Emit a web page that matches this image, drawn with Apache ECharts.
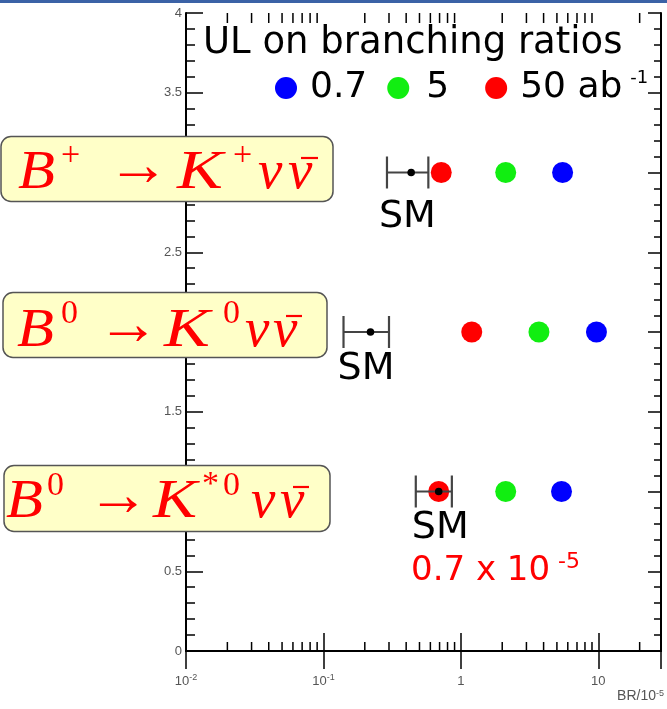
<!DOCTYPE html>
<html><head><meta charset="utf-8">
<script src="https://cdn.jsdelivr.net/npm/echarts@6/dist/echarts.min.js"></script>
<style>html,body{margin:0;padding:0;background:#fff}#c{width:667px;height:709px}</style>
</head><body><div id="c"></div>
<script>
// ---- data ----
const rowY = [3, 2, 1];
const smCentral = [0.435, 0.22, 0.69];
const smLow = [0.29, 0.14, 0.47];
const smHigh = [0.58, 0.30, 0.86];
const ul07 = [5.5, 9.7, 5.4];     // blue, 0.7 ab-1
const ul5 = [2.12, 3.7, 2.12];    // green, 5 ab-1
const ul50 = [0.72, 1.2, 0.69];   // red, 50 ab-1
const seriesNames = ['0.7', '5', '50 ab⁻¹'];
const xMin = 0.01, xMax = 28.6;
const yMin = 0, yMax = 4, yInterval = 0.5;
const decadeMultipliers = [2, 3, 4, 5, 6, 7, 8, 9];
const decadeStarts = [0.01, 0.1, 1, 10];
const xMinorTicks = [];
decadeStarts.forEach(d => decadeMultipliers.forEach(m => { const v = +(d * m).toPrecision(3); if (v <= xMax) xMinorTicks.push(v); }));

// ---- layout (not data) ----
const smLabelDx = [8, 6, 4];
const smLabelDy = [45, 37, 37];

const chart = echarts.init(document.getElementById('c'), null, {renderer: 'canvas'});

const pieceStyle = {
  i: {fontFamily: 'Liberation Serif', fontStyle: 'italic', fontSize: 55},
  u: {fontFamily: 'Liberation Serif', fontSize: 62},
  s: {fontFamily: 'Liberation Serif', fontSize: 34}
};

// formula pieces: [text, x, y(middle), kind, scaleX]
function formulaBox(rect, pieces, macron) {
  const els = [{type: 'rect', z: 100, shape: {x: rect[0], y: rect[1], width: rect[2], height: rect[3], r: 10},
    style: {fill: '#ffffc8', stroke: '#555', lineWidth: 1.5}}];
  pieces.forEach(p => {
    els.push({type: 'text', z: 101, x: p[1], y: p[2], scaleX: p[4] || 1, style: Object.assign({
      text: p[0], fill: '#ff0000', align: 'left', verticalAlign: 'middle'}, pieceStyle[p[3]])});
  });
  els.push({type: 'line', z: 102, shape: {x1: macron[0], y1: macron[2], x2: macron[1], y2: macron[2]},
    style: {stroke: '#ff0000', lineWidth: 2.2}});
  return els;
}

const box1 = formulaBox([1, 136.5, 332, 65], [
  ['B', 18, 174, 'i', 1.1], ['+', 61, 156, 's'], ['→', 107, 169, 'u'],
  ['K', 177, 174, 'i', 1.25], ['+', 233, 156, 's'], ['ν', 258, 174, 'i'], ['ν', 288, 174, 'i']
], [301, 318, 158]);
const box2 = formulaBox([3, 292.5, 324, 65], [
  ['B', 17, 332, 'i', 1.1], ['0', 61, 314, 's'], ['→', 97, 328, 'u'],
  ['K', 164, 332, 'i', 1.25], ['0', 223, 314, 's'], ['ν', 245, 332, 'i'], ['ν', 273, 332, 'i']
], [286, 302, 316]);
const box3 = formulaBox([4, 465.5, 326, 66], [
  ['B', 6, 503, 'i', 1.1], ['0', 47, 486, 's'], ['→', 87, 499, 'u'],
  ['K', 153, 503, 'i', 1.2], ['*', 202, 485, 's'], ['0', 223, 486, 's'], ['ν', 251, 503, 'i'], ['ν', 280, 503, 'i']
], [293, 309, 487]);

const option = {
  animation: false,
  backgroundColor: '#ffffff',
  title: {
    text: 'UL on branching ratios', left: 198, top: 20,
    textStyle: {fontSize: 37, fontWeight: 'normal', fontFamily: 'DejaVu Sans', color: '#000'}
  },
  legend: {
    left: 270, top: 64, icon: 'circle', itemWidth: 22, itemHeight: 22, itemGap: 20,
    data: seriesNames,
    formatter: function (name) {
      if (name === '5') return '{f|5}';
      if (name === '50 ab⁻¹') return '{n|50 ab}{s|-1}';
      return '{n|' + name + '}';
    },
    textStyle: {
      color: '#000', fontFamily: 'DejaVu Sans', fontSize: 35,
      rich: {
        n: {fontFamily: 'DejaVu Sans', fontSize: 36, lineHeight: 38, padding: [0, 0, 0, 8], color: '#000'},
        f: {fontFamily: 'DejaVu Sans', fontSize: 36, lineHeight: 38, padding: [0, 16, 0, 12], color: '#000'},
        s: {fontFamily: 'DejaVu Sans', fontSize: 18, lineHeight: 24, verticalAlign: 'top', padding: [0, 0, 0, 8], color: '#000'}
      }
    }
  },
  grid: {left: 186, right: 4, top: 13, bottom: 58},
  xAxis: [{
    type: 'log', logBase: 10, min: xMin, max: xMax, position: 'bottom',
    axisLine: {show: true, lineStyle: {color: '#000', width: 2}},
    axisTick: {show: true, inside: true, length: 18, lineStyle: {color: '#000', width: 1.5}},
    splitLine: {show: false},
    axisLabel: {
      color: '#555', fontFamily: 'Liberation Sans', fontSize: 13, margin: 22, lineHeight: 16,
      showMaxLabel: false,
      formatter: function (v) {
        const l = Math.log10(v), r = Math.round(l);
        if (Math.abs(l - r) > 1e-6) return '';
        if (r < 0) return '10{s|' + r + '}';
        return String(Math.pow(10, r));
      },
      rich: {s: {fontSize: 9, lineHeight: 10, verticalAlign: 'top', color: '#555', fontFamily: 'Liberation Sans'}}
    },
    name: 'BR/10{s|-5}', nameLocation: 'end', nameGap: 3,
    nameTextStyle: {
      color: '#555', fontFamily: 'Liberation Sans', fontSize: 14, align: 'right', verticalAlign: 'top',
      padding: [38, 0, 0, 0],
      rich: {s: {fontSize: 9, lineHeight: 10, verticalAlign: 'top', color: '#555', fontFamily: 'Liberation Sans'}}
    }
  }, {
    type: 'log', logBase: 10, min: xMin, max: xMax, position: 'top',
    axisLine: {show: true, lineStyle: {color: '#000', width: 2}},
    axisTick: {show: true, inside: true, length: 18, lineStyle: {color: '#000', width: 1.5}},
    axisLabel: {show: false}, splitLine: {show: false}
  }],
  yAxis: [{
    type: 'value', min: yMin, max: yMax, interval: yInterval, position: 'left',
    axisLine: {show: true, lineStyle: {color: '#000', width: 2}},
    axisTick: {show: true, inside: true, length: 17, lineStyle: {color: '#000', width: 1.5}},
    minorTick: {show: true, splitNumber: 5, length: 9, lineStyle: {color: '#000', width: 1.5}},
    splitLine: {show: false},
    axisLabel: {color: '#555', fontFamily: 'Liberation Sans', fontSize: 13, margin: 4}
  }, {
    type: 'value', min: yMin, max: yMax, interval: yInterval, position: 'right',
    axisLine: {show: true, lineStyle: {color: '#000', width: 2}},
    axisTick: {show: true, inside: true, length: 13, lineStyle: {color: '#000', width: 1.5}},
    minorTick: {show: true, splitNumber: 5, length: 7, lineStyle: {color: '#000', width: 1.5}},
    splitLine: {show: false}, axisLabel: {show: false}
  }],
  graphic: [
    {type: 'rect', x: 0, y: 0, z: 100, shape: {x: 0, y: 0, width: 667, height: 3}, style: {fill: '#3b62a6'}},
    {type: 'group', z: 100, children: box1},
    {type: 'group', z: 100, children: box2},
    {type: 'group', z: 100, children: box3},
    {type: 'text', x: 411, y: 571, z: 100, style: {
      text: '{n|0.7 x 10}{s|-5}', align: 'left', verticalAlign: 'middle',
      rich: {
        n: {fontFamily: 'DejaVu Sans', fontSize: 34, fill: '#ff0000', lineHeight: 40},
        s: {fontFamily: 'DejaVu Sans', fontSize: 22, fill: '#ff0000', lineHeight: 28, verticalAlign: 'top', padding: [0, 0, 0, 8]}
      }
    }}
  ],
  series: [
    {
      type: 'custom', name: 'minorTicks', xAxisIndex: 0, yAxisIndex: 0, silent: true,
      data: xMinorTicks.map(v => [v, 0]),
      encode: {x: 0, y: 1},
      renderItem: function (params, api) {
        const cs = params.coordSys;
        const x = api.coord([api.value(0), 0])[0];
        const yb = cs.y + cs.height, yt = cs.y;
        return {type: 'group', children: [
          {type: 'line', shape: {x1: x, y1: yb, x2: x, y2: yb - 9}, style: {stroke: '#000', lineWidth: 1.5}},
          {type: 'line', shape: {x1: x, y1: yt, x2: x, y2: yt + 10}, style: {stroke: '#000', lineWidth: 1.5}}
        ]};
      }
    },
    {name: seriesNames[0], type: 'scatter', symbol: 'circle', symbolSize: 21, itemStyle: {color: '#0000ff', opacity: 1},
      data: rowY.map((y, i) => [ul07[i], y])},
    {name: seriesNames[1], type: 'scatter', symbol: 'circle', symbolSize: 21, itemStyle: {color: '#11ee11', opacity: 1},
      data: rowY.map((y, i) => [ul5[i], y])},
    {name: seriesNames[2], type: 'scatter', symbol: 'circle', symbolSize: 21, itemStyle: {color: '#ff0000', opacity: 1},
      data: rowY.map((y, i) => [ul50[i], y])},
    {
      type: 'custom', name: 'SM', xAxisIndex: 0, yAxisIndex: 0, z: 5,
      data: rowY.map((y, i) => [smCentral[i], y, smLow[i], smHigh[i]]),
      encode: {x: 0, y: 1},
      renderItem: function (params, api) {
        const i = params.dataIndex;
        const c = api.coord([api.value(0), api.value(1)]);
        const lo = api.coord([api.value(2), api.value(1)]);
        const hi = api.coord([api.value(3), api.value(1)]);
        const capH = 16;
        const st = {stroke: '#444', lineWidth: 2.2};
        return {type: 'group', children: [
          {type: 'line', shape: {x1: lo[0], y1: c[1], x2: hi[0], y2: c[1]}, style: st},
          {type: 'line', shape: {x1: lo[0], y1: c[1] - capH, x2: lo[0], y2: c[1] + capH}, style: st},
          {type: 'line', shape: {x1: hi[0], y1: c[1] - capH, x2: hi[0], y2: c[1] + capH}, style: st},
          {type: 'circle', shape: {cx: c[0], cy: c[1], r: 3.8}, style: {fill: '#000'}},
          {type: 'text', x: lo[0] - smLabelDx[i], y: c[1] + smLabelDy[i], style: {
            text: 'SM', fontFamily: 'DejaVu Sans', fontSize: 38, fill: '#000', align: 'left', verticalAlign: 'middle'}}
        ]};
      }
    }
  ]
};
chart.setOption(option);
</script>
</body></html>
